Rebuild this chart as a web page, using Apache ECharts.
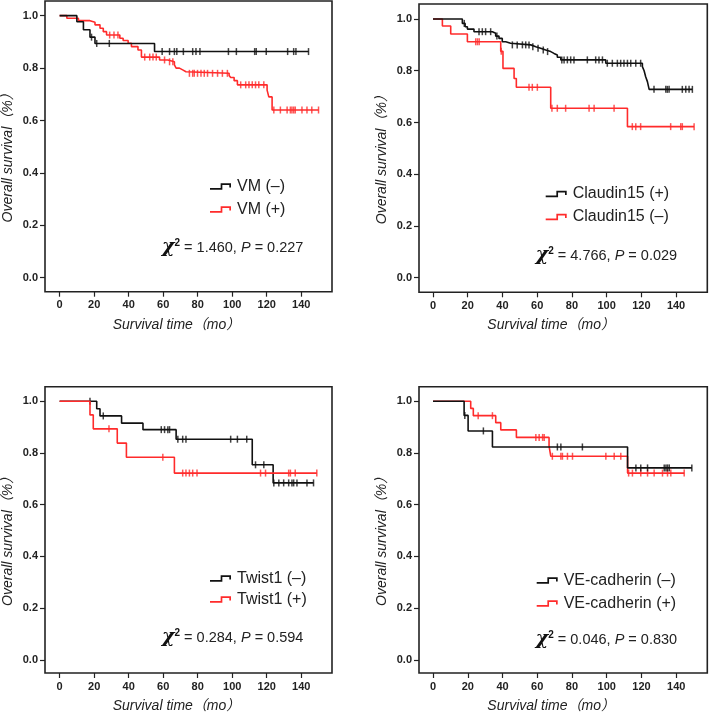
<!DOCTYPE html>
<html>
<head>
<meta charset="utf-8">
<script src="https://cdn.jsdelivr.net/npm/echarts@6/dist/echarts.min.js"></script>
<style>html,body{margin:0;padding:0;background:#fff}#c{width:709px;height:714px}</style>
</head>
<body>
<div id="c"></div>
<script>
// ---------- DATA ----------
const xTicks = [0, 20, 40, 60, 80, 100, 120, 140];
const yTicks = [0, 0.2, 0.4, 0.6, 0.8, 1.0];

// Panel 1: VM
const vmNegTime = [0, 10, 13.8, 17.6, 20.5, 55, 144.2];
const vmNegSurv = [1, 0.977, 0.946, 0.918, 0.894, 0.863, 0.863];
const vmNegCens = [18.5, 21.5, 28.8, 59.4, 63.7, 66.5, 67.9, 71.7, 77.1, 79, 81.3, 97.8, 102.4, 113, 113.9, 119.7, 132.1, 135.6, 136.9, 144.2];
const vmPosTime = [0, 4.2, 10.9, 17.6, 20.5, 23.4, 25.3, 27.2, 34.9, 36.8, 39.7, 41.6, 45.4, 47.4, 57.9, 62.7, 66.5, 67.5, 69.4, 71.3, 73.2, 98.2, 99.1, 101.1, 103, 120.2, 121.2, 123.1, 150];
const vmPosSurv = [1, 0.99, 0.981, 0.975, 0.965, 0.952, 0.939, 0.926, 0.914, 0.905, 0.895, 0.882, 0.869, 0.842, 0.831, 0.824, 0.812, 0.80, 0.793, 0.786, 0.78, 0.772, 0.764, 0.752, 0.736, 0.716, 0.69, 0.64, 0.64];
const vmPosCens = [29, 31.5, 33.8, 49.3, 52.2, 54.1, 56, 60.8, 63.7, 65.6, 75.2, 77.1, 78, 79.9, 81.9, 83.8, 85.7, 88.6, 91.5, 94.3, 97.2, 104.9, 107.8, 109.7, 111.6, 113.5, 115.4, 118.3, 124.1, 127.9, 131.8, 133.7, 134.6, 135.6, 136.5, 140.4, 143.3, 146.1, 150];

// Panel 2: Claudin15
const clPosTime = [0, 16.9, 18.5, 19.8, 23.6, 34.2, 36.1, 38.0, 39.9, 41.9, 44.7, 56.3, 59.2, 62.0, 64.9, 67.8, 69.7, 71.6, 73.6, 99.5, 120.6, 121.6, 122.5, 123.5, 124.5, 149.4];
const clPosSurv = [1, 0.983, 0.970, 0.961, 0.951, 0.945, 0.934, 0.925, 0.912, 0.906, 0.900, 0.893, 0.887, 0.880, 0.874, 0.867, 0.861, 0.852, 0.842, 0.829, 0.816, 0.800, 0.777, 0.758, 0.728, 0.728];
const clPosCens = [18, 26.5, 28.4, 30.3, 33.2, 36.8, 45.7, 48.5, 51.5, 53.4, 55.3, 57.5, 60.5, 63.5, 66, 74.2, 75.5, 77.4, 79.3, 81.2, 88.9, 93.7, 95.6, 97.6, 100.4, 103.3, 106.2, 108.1, 110, 112, 113.9, 116.8, 119.6, 127.3, 134.1, 135, 136, 143.6, 145.6, 147.5, 149.4];
const clNegTime = [0, 5.4, 10.2, 19.8, 39.0, 40.3, 46.7, 48.0, 67.8, 112.0, 150.4];
const clNegSurv = [1, 0.973, 0.942, 0.912, 0.875, 0.809, 0.77, 0.736, 0.655, 0.584, 0.584];
const clNegCens = [24.6, 25.6, 26.6, 39.3, 55.3, 57.2, 60.1, 68.5, 71.6, 76.4, 89.9, 92.8, 104.3, 114.8, 116.8, 119.6, 136.9, 142.7, 143.6, 150.4];

// Panel 3: Twist1
const twNegTime = [0, 21.5, 23.4, 35.9, 48.3, 67.5, 111.6, 123.7, 147.1];
const twNegSurv = [1, 0.971, 0.943, 0.915, 0.890, 0.853, 0.754, 0.684, 0.684];
const twNegCens = [17.6, 25.3, 58.9, 60.8, 62.7, 63.7, 68.5, 71.3, 73.2, 99.1, 103, 108.4, 113.5, 118.3, 124.1, 127, 129.8, 132.7, 134.6, 135.6, 137.5, 143.3, 147.1];
const twPosTime = [0, 17.6, 19.5, 33.4, 38.7, 66.5, 149];
const twPosSurv = [1, 0.947, 0.893, 0.838, 0.783, 0.722, 0.722];
const twPosCens = [28.6, 59.8, 71.3, 73.2, 75.2, 77.1, 79.6, 116.4, 119.3, 132.7, 133.7, 136.5, 149];

// Panel 4: VE-cadherin
const veNegTime = [0, 17.9, 20.2, 34.2, 112.0, 149.0];
const veNegSurv = [1, 0.945, 0.885, 0.823, 0.742, 0.742];
const veNegCens = [18.3, 29.0, 71.6, 73.6, 86.0, 116.8, 119.6, 123.5, 133.1, 134.1, 135, 136, 149];
const vePosTime = [0, 21.7, 23.2, 36.1, 39.0, 48.0, 66.8, 67.8, 112.0, 144.6];
const vePosSurv = [1, 0.972, 0.944, 0.917, 0.889, 0.860, 0.826, 0.787, 0.722, 0.722];
const vePosCens = [26.0, 34.2, 59.2, 61.1, 63.1, 64.0, 68.7, 73.6, 74.5, 77.4, 80.3, 99.5, 104.3, 108.1, 112.6, 114.8, 119.6, 123.5, 127.3, 132.1, 135, 136.9, 144.6];

const legendNames = [
  ['VM (–)', 'VM (+)'],
  ['Claudin15 (+)', 'Claudin15 (–)'],
  ['Twist1 (–)', 'Twist1 (+)'],
  ['VE-cadherin (–)', 'VE-cadherin (+)']
];
const chiValues = [['1.460', '0.227'], ['4.766', '0.029'], ['0.284', '0.594'], ['0.046', '0.830']];
const xName = 'Survival time（mo）';
const yName = 'Overall survival（%）';

// ---------- LAYOUT ----------
const FONT = "'Liberation Sans', Arial, 'Noto Sans CJK SC', sans-serif";
const BLACK = '#111111', RED = '#ff2b2b';
const panels = [
  { grid: {left: 43, top: 1, width: 289, height: 290.7}, x: [-8.46, 157.8], y: [-0.0534, 1.056],
    black: [vmNegTime, vmNegSurv, vmNegCens], red: [vmPosTime, vmPosSurv, vmPosCens], redTop: false,
    legend: {left: 210, top: 178.5, gap: 7}, chi: {x: 162, y: 248} },
  { grid: {left: 419, top: 4, width: 288.3, height: 288.3}, x: [-8.07, 158.0], y: [-0.0564, 1.058],
    black: [clPosTime, clPosSurv, clPosCens], red: [clNegTime, clNegSurv, clNegCens], redTop: false,
    legend: {left: 545.7, top: 186, gap: 7}, chi: {x: 535.7, y: 256} },
  { grid: {left: 43, top: 386.7, width: 289, height: 287.3}, x: [-8.46, 157.8], y: [-0.051, 1.056],
    black: [twNegTime, twNegSurv, twNegCens], red: [twPosTime, twPosSurv, twPosCens], redTop: true,
    legend: {left: 210, top: 570.5, gap: 5}, chi: {x: 162, y: 638} },
  { grid: {left: 419, top: 386.7, width: 288.3, height: 287.3}, x: [-8.07, 157.9], y: [-0.051, 1.056],
    black: [veNegTime, veNegSurv, veNegCens], red: [vePosTime, vePosSurv, vePosCens], redTop: false,
    legend: {left: 536.7, top: 572.5, gap: 7}, chi: {x: 535.7, y: 640} }
];

function kmAt(times, surv, t) {
  let v = surv[0];
  for (let i = 0; i < times.length; i++) { if (times[i] <= t) v = surv[i]; }
  return v;
}

const grids = [], xAxes = [], yAxes = [], series = [], legends = [], graphics = [];
const ICON = 'path://M0,4.75 L10.65,4.75 L10.65,0 L21,0 L21,4.2 L19.3,4.2 L19.3,1.7 L12.35,1.7 L12.35,6.45 L0,6.45 Z';

panels.forEach((p, i) => {
  grids.push(Object.assign({show: true, borderColor: '#222', borderWidth: 1.6, backgroundColor: 'transparent'}, p.grid));
  xAxes.push({
    type: 'value', gridIndex: i, min: p.x[0], max: p.x[1], position: 'bottom',
    axisLine: {show: false, onZero: false}, splitLine: {show: false},
    axisTick: {show: true, inside: false, length: 5, customValues: xTicks, lineStyle: {color: '#222', width: 1.2}},
    axisLabel: {customValues: xTicks, margin: 8, color: '#222', fontSize: 11, fontWeight: 'bold', fontFamily: FONT},
    name: xName, nameLocation: 'middle', nameGap: 26,
    nameTextStyle: {fontStyle: 'italic', fontSize: 14, color: '#222', fontFamily: FONT, padding: [0, 24, 0, 0]}
  });
  yAxes.push({
    type: 'value', gridIndex: i, min: p.y[0], max: p.y[1], position: 'left',
    axisLine: {show: false, onZero: false}, splitLine: {show: false},
    axisTick: {show: true, inside: false, length: 5, customValues: yTicks, lineStyle: {color: '#222', width: 1.2}},
    axisLabel: {customValues: yTicks, margin: 7, color: '#222', fontSize: 11, fontWeight: 'bold', fontFamily: FONT,
      formatter: v => v.toFixed(1)},
    name: yName, nameLocation: 'middle', nameGap: 30, nameRotate: 90,
    nameTextStyle: {fontStyle: 'italic', fontSize: 14, color: '#222', fontFamily: FONT, padding: [0, 16, 0, 0]}
  });
  const mk = (d, color, name) => ([
    {type: 'line', name: name, xAxisIndex: i, yAxisIndex: i, step: 'end', showSymbol: false, symbol: 'none',
      color: color, lineStyle: {color: color, width: 1.6}, data: d[0].map((t, k) => [t, d[1][k]]), animation: false, silent: true},
    {type: 'scatter', xAxisIndex: i, yAxisIndex: i, symbol: 'rect', symbolSize: [1.5, 7], itemStyle: {color: color},
      data: d[2].map(t => [t, kmAt(d[0], d[1], t)]), animation: false, silent: true}
  ]);
  const b = mk(p.black, BLACK, legendNames[i][0]);
  const r = mk(p.red, RED, legendNames[i][1]);
  if (p.redTop) series.push(...b, ...r); else series.push(...r, ...b);
  legends.push({
    data: legendNames[i], orient: 'vertical', left: p.legend.left, top: p.legend.top, itemGap: p.legend.gap,
    icon: ICON, itemWidth: 21, itemHeight: 6.45, selectedMode: false, padding: 0,
    itemStyle: {borderWidth: 0},
    textStyle: {fontSize: 16, color: '#222', fontFamily: FONT, padding: [0, 0, 0, 1]}
  });
  graphics.push({
    type: 'text', left: p.chi.x, top: p.chi.y - 10,
    style: {
      text: '{chi|χ}{sup|2}{n| = ' + chiValues[i][0] + ', }{it|P}{n| = ' + chiValues[i][1] + '}',
      rich: {
        chi: {fontSize: 19, fontWeight: 'bold', fontStyle: 'italic', fontFamily: "'DejaVu Serif', serif", fill: '#111', verticalAlign: 'bottom'},
        sup: {fontSize: 10, fontWeight: 'bold', fontFamily: FONT, fill: '#111', verticalAlign: 'top', padding: [0, 0, 8, 0]},
        n: {fontSize: 14.5, fontFamily: FONT, fill: '#222'},
        it: {fontSize: 14.5, fontStyle: 'italic', fontFamily: FONT, fill: '#222'}
      }
    }
  });
});

const chart = echarts.init(document.getElementById('c'), null, {renderer: 'canvas'});
chart.setOption({
  backgroundColor: '#fff',
  animation: false,
  grid: grids, xAxis: xAxes, yAxis: yAxes, series: series, legend: legends, graphic: graphics
});
</script>
</body>
</html>
